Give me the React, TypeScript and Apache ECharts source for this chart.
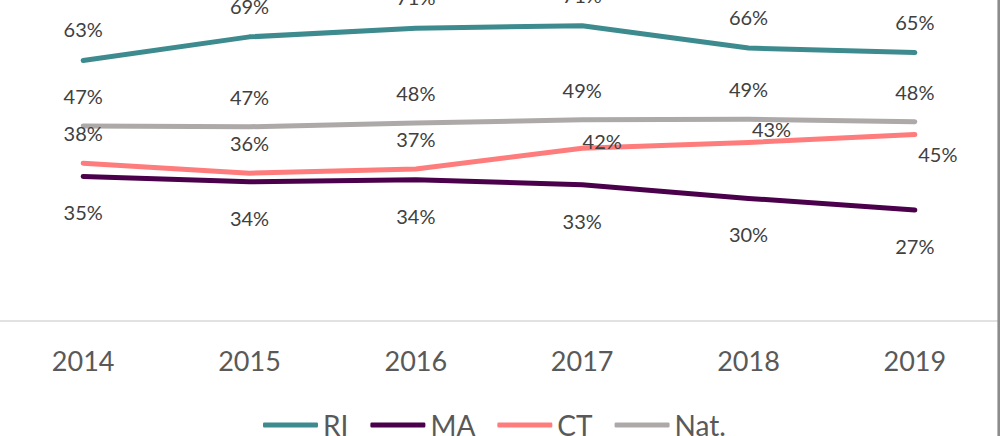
import React, { useEffect, useRef } from "react";
import * as echarts from "echarts";

const YEARS = ["2014", "2015", "2016", "2017", "2018", "2019"];
const RI = [62.9, 68.6, 70.7, 71.3, 65.9, 64.8];
const MA = [34.9, 33.6, 34.1, 32.9, 29.6, 26.8];
const CT = [38.1, 35.7, 36.7, 41.7, 43.1, 45.0];
const NAT = [47.1, 46.9, 47.8, 48.6, 48.7, 48.1];

// label placement (layout only)
const CT_LABEL_OFFSETS: [number, number][] = [
  [0, -30],
  [0, -30],
  [0, -30],
  [20, -7],
  [23, -13],
  [23, 19],
];

const FONT = "Lato, 'Open Sans', sans-serif";

export default function App() {
  const ref = useRef<HTMLDivElement>(null);
  useEffect(() => {
    if (!ref.current) return;
    const chart = echarts.init(ref.current, undefined, { renderer: "svg" });
    const fmt = (p: any) => Math.round(Number(p.value)) + "%";
    const mkLabel = (offset: [number, number]) => ({
      show: true,
      position: "inside",
      offset,
      formatter: fmt,
      fontSize: 20,
      fontFamily: FONT,
      color: "#404040",
    });
    const mkSeries = (name: string, data: any[], color: string, offset: [number, number]) => ({
      name,
      type: "line",
      data,
      symbol: "circle",
      symbolSize: 1,
      showSymbol: true,
      itemStyle: { color },
      lineStyle: { color, width: 5, cap: "round", join: "round" },
      label: mkLabel(offset),
      z: 2,
    });
    const ctData = CT.map((v, i) => ({
      value: v,
      label: { offset: CT_LABEL_OFFSETS[i] },
    }));
    chart.setOption({
      animation: false,
      textStyle: { fontFamily: FONT },
      grid: { left: -20, right: 5, top: 0, height: 321, containLabel: false },
      xAxis: {
        type: "category",
        data: YEARS,
        boundaryGap: true,
        axisTick: { show: false },
        axisLine: { lineStyle: { color: "#d9d9d9", width: 1.5 } },
        axisLabel: { fontSize: 27, fontFamily: FONT, color: "#595959", margin: 26 },
      },
      yAxis: {
        type: "value",
        min: 0,
        max: 77.5,
        show: false,
        splitLine: { show: false },
      },
      legend: {
        left: 263,
        top: 411,
        padding: 0,
        icon: "roundRect",
        itemWidth: 55,
        itemHeight: 5,
        itemGap: 22,
        textStyle: { fontSize: 28, fontFamily: FONT, color: "#595959" },
        data: ["RI", "MA", "CT", "Nat."],
      },
      graphic: [
        {
          type: "line",
          shape: { x1: 998.7, y1: 0, x2: 998.7, y2: 436 },
          style: { stroke: "#8c8c8c", lineWidth: 2.6 },
          z: 10,
        },
      ],
      series: [
        mkSeries("RI", RI, "#3d8b8f", [0, -31]),
        mkSeries("MA", MA, "#4a004a", [0, 36]),
        mkSeries("CT", ctData, "#ff7c7c", [0, -30]),
        mkSeries("Nat.", NAT, "#aea9a9", [0, -30]),
      ],
    });
    return () => chart.dispose();
  }, []);
  return (
    <div
      ref={ref}
      style={{ position: "fixed", top: 0, left: 0, width: 1003, height: 436, background: "#fff" }}
    />
  );
}
